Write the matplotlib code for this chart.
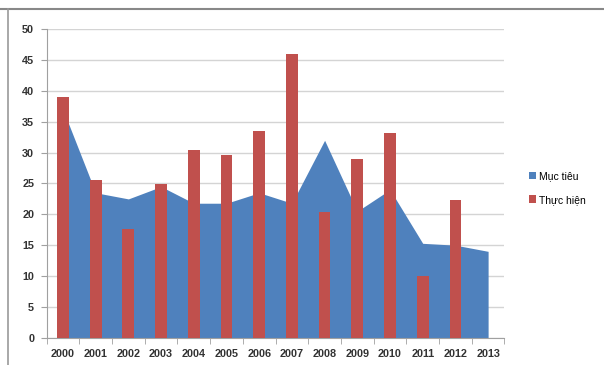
import numpy as np
import matplotlib.pyplot as plt
from matplotlib.lines import Line2D

years = ['2000', '2001', '2002', '2003', '2004', '2005', '2006',
         '2007', '2008', '2009', '2010', '2011', '2012', '2013']
muc_tieu = [37, 23.5, 22.5, 24.5, 21.8, 21.8, 23.5, 21.8, 32, 20.5, 24, 15.3, 15, 14]
thuc_hien = [39, 25.6, 17.6, 24.9, 30.4, 29.6, 33.5, 46, 20.3, 28.9, 33.2, 10, 22.4]

blue = '#4F81BD'
red = '#C0504D'

plt.rcParams['font.family'] = ['Liberation Sans', 'DejaVu Sans']

fig = plt.figure(figsize=(6.04, 3.65), dpi=100)
ax = fig.add_axes([0.0772, 0.0748, 0.758, 0.845])

x = np.arange(len(years))
ax.fill_between(x, muc_tieu, color=blue, lw=0, zorder=2, label='Mục tiêu')
ax.bar(x[:len(thuc_hien)], thuc_hien, width=0.36, color=red, zorder=3, label='Thực hiện')

ax.set_xlim(-0.5, len(years) - 0.5)
ax.set_ylim(0, 50)
ax.set_yticks(np.arange(0, 51, 5))
ax.yaxis.grid(True, color='#d4d4d4', lw=1)
ax.set_axisbelow(True)

ax.set_xticks(x)
ax.set_xticklabels(years)
ax.set_xticks(np.arange(-0.5, len(years), 1), minor=True)
ax.tick_params(axis='x', which='major', length=0, pad=8)
ax.tick_params(axis='x', which='minor', length=4, color='#a0a0a0', direction='out')
ax.tick_params(axis='y', length=4, color='#a0a0a0', pad=5)
for lab in ax.get_xticklabels() + ax.get_yticklabels():
    lab.set_fontsize(7.8)
    lab.set_fontweight('bold')
    lab.set_color('#333333')

for s in ['top', 'right']:
    ax.spines[s].set_visible(False)
ax.spines['left'].set_color('#a0a0a0')
ax.spines['bottom'].set_color('#a0a0a0')

leg = fig.legend(loc='center left', bbox_to_anchor=(0.86, 0.485), frameon=False,
                 fontsize=7.5, handlelength=0.7, handleheight=0.7, handletextpad=0.3,
                 labelspacing=1.3)

# chart frame (top and left edges only visible)
fig.add_artist(Line2D([0.0, 1.0], [0.974, 0.974], transform=fig.transFigure, color='#888888', lw=1.5))
fig.add_artist(Line2D([0.0133, 0.0133], [0.0, 0.974], transform=fig.transFigure, color='#999999', lw=1.2))

fig.savefig('out.png', dpi=100)
